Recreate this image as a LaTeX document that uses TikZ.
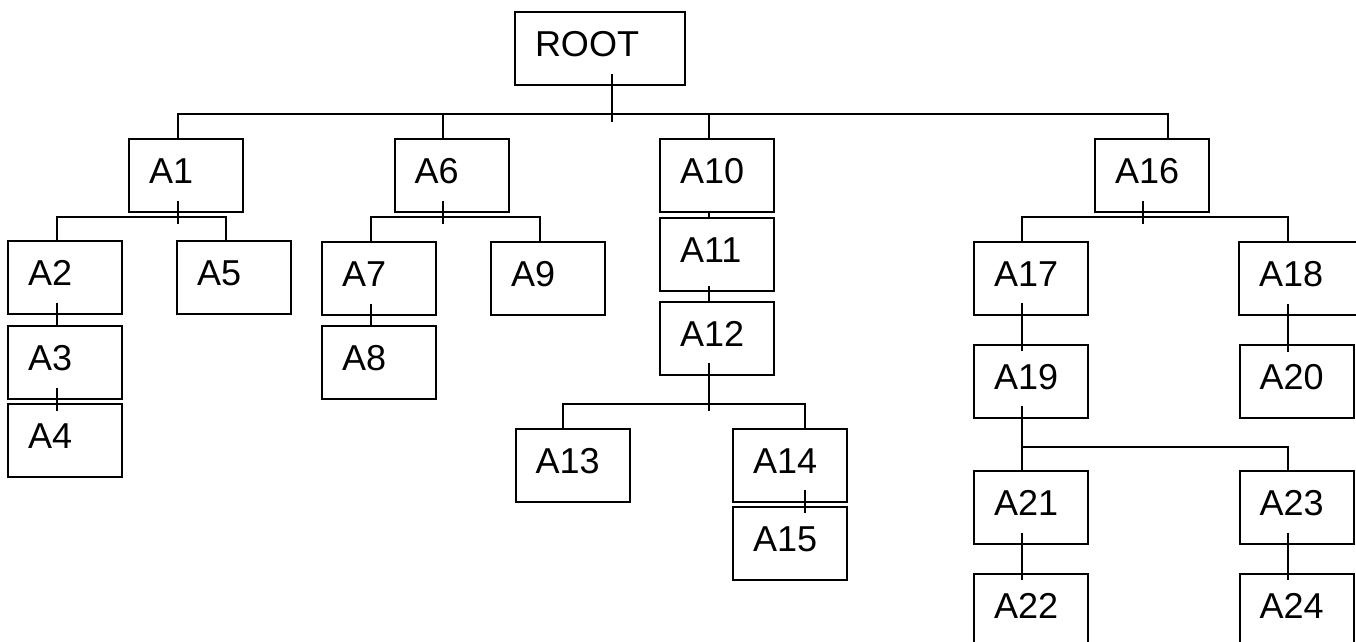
\documentclass[tikz,border=0pt]{standalone}
\usepackage{fontspec}
\setmainfont{Liberation Sans}
\usepackage{tikz}

\tikzset{
  blk/.style={draw, line width=1pt, rectangle, minimum height=36.5pt,
    text width=37pt, inner xsep=10pt, align=left,
    text height=13pt, text depth=5pt, font=\fontsize{18}{21}\selectfont},
  wire/.style={line width=1pt}
}

\begin{document}
\begin{tikzpicture}[x=0.5pt,y=-0.5pt]
\useasboundingbox (0,0) rectangle (1356,642);
% boxes
\node [blk, text width=65pt] (root) at (600,49) {ROOT};
\node [blk] (a1) at (186,176) {A1};
\node [blk] (a2) at (65,277.5) {A2};
\node [blk] (a3) at (65,362.5) {A3};
\node [blk] (a4) at (65,440.5) {A4};
\node [blk] (a5) at (234,277.5) {A5};
\node [blk] (a6) at (451.5,176) {A6};
\node [blk] (a7) at (379,278) {A7};
\node [blk] (a8) at (379,362.5) {A8};
\node [blk] (a9) at (548,278) {A9};
\node [blk] (a10) at (717,176) {A10};
\node [blk] (a11) at (717,254.5) {A11};
\node [blk] (a12) at (717,338.5) {A12};
\node [blk] (a13) at (572.5,465) {A13};
\node [blk] (a14) at (790,465) {A14};
\node [blk] (a15) at (790,543.5) {A15};
\node [blk] (a16) at (1152,176) {A16};
\node [blk] (a17) at (1031,278) {A17};
\node [blk, text width=45pt] (a18) at (1304,278) {A18};
\node [blk] (a19) at (1031,381) {A19};
\node [blk] (a20) at (1296.5,381) {A20};
\node [blk] (a21) at (1031,507) {A21};
\node [blk] (a22) at (1031,610) {A22};
\node [blk] (a23) at (1296.5,507) {A23};
\node [blk] (a24) at (1296.5,610) {A24};
% root level
\draw [wire] ([xshift=6pt,yshift=6pt]root.south) -- ++(0,48);
\draw [wire] ([xshift=-4pt]a1.north) -- ++(0,-24) -| ([xshift=8pt]a16.north);
\draw [wire] ([xshift=-4.25pt]a6.north) -- ++(0,-24);
\draw [wire] ([xshift=-4pt]a10.north) -- ++(0,-24);
% A1
\draw [wire] ([xshift=-4pt,yshift=6pt]a1.south) -- ++(0,23);
\draw [wire] ([xshift=-4pt]a2.north) -- ++(0,-23) -| ([xshift=-4pt]a5.north);
\draw [wire] ([xshift=-4pt,yshift=6pt]a2.south) -- ([xshift=-4pt]a3.north);
\draw [wire] ([xshift=-4pt,yshift=6pt]a3.south) -- ++(0,23);
% A6
\draw [wire] ([xshift=-4.25pt,yshift=6pt]a6.south) -- ++(0,23);
\draw [wire] ([xshift=-4pt]a7.north) -- ++(0,-23) -| ([xshift=-4pt]a9.north);
\draw [wire] ([xshift=-4pt,yshift=6pt]a7.south) -- ([xshift=-4pt]a8.north);
% A10
\draw [wire] ([xshift=-4pt]a10.south) -- ([xshift=-4pt]a11.north);
\draw [wire] ([xshift=-4pt,yshift=3pt]a11.south) -- ([xshift=-4pt]a12.north);
\draw [wire] ([xshift=-4pt,yshift=6.5pt]a12.south) -- ++(0,48);
\draw [wire] ([xshift=-4.75pt]a13.north) -- ++(0,-24) -| ([xshift=7.5pt]a14.north);
\draw [wire] ([xshift=7.5pt,yshift=6.5pt]a14.south) -- ++(0,23);
% A16
\draw [wire] ([xshift=-4.5pt,yshift=6pt]a16.south) -- ++(0,23);
\draw [wire] ([xshift=-4.5pt]a17.north) -- ++(0,-23) -| ([xshift=-8pt]a18.north);
\draw [wire] ([xshift=-4.5pt,yshift=6.5pt]a17.south) -- ++(0,48);
\draw [wire] ([xshift=-8pt,yshift=6pt]a18.south) -- ++(0,48);
\draw [wire] ([xshift=-4.5pt,yshift=6.5pt]a19.south) -- ([xshift=-4.5pt]a21.north);
\draw [wire] ([xshift=-4.5pt]a21.north) -- ++(0,-23) -| ([xshift=-4.25pt]a23.north);
\draw [wire] ([xshift=-4.5pt,yshift=6pt]a21.south) -- ++(0,47);
\draw [wire] ([xshift=-4.25pt,yshift=6pt]a23.south) -- ++(0,47);
\end{tikzpicture}
\end{document}
